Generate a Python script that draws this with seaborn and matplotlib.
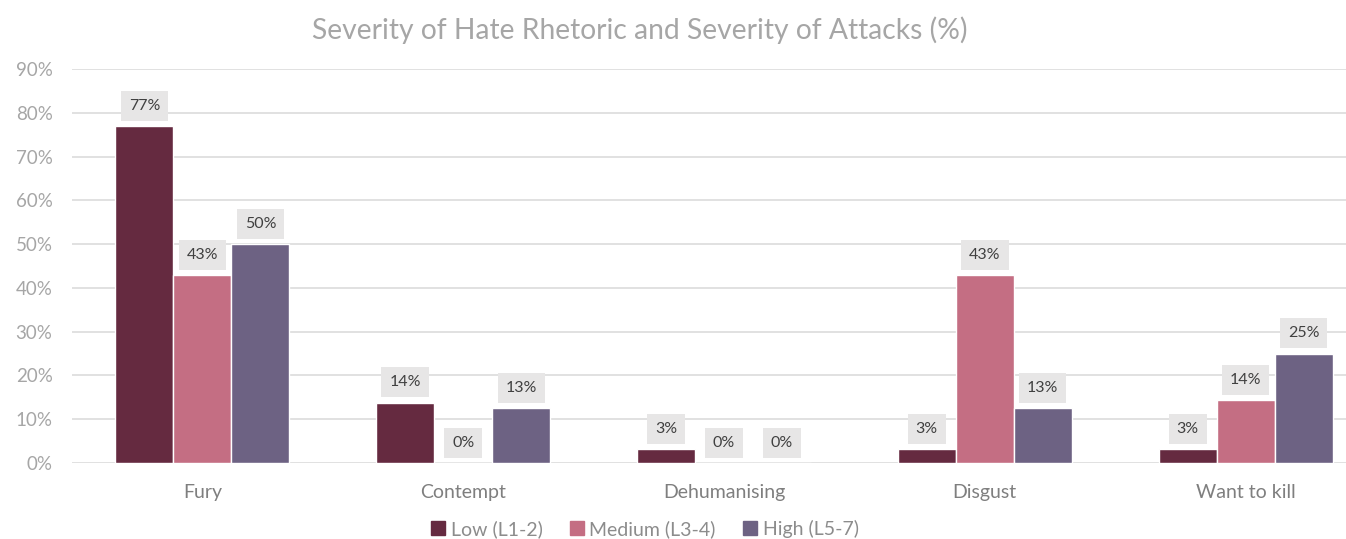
import matplotlib
matplotlib.use("Agg")
import matplotlib.pyplot as plt
import seaborn as sns
import pandas as pd

categories = ["Fury", "Contempt", "Dehumanising", "Disgust", "Want to kill"]
series = ["Low (L1-2)", "Medium (L3-4)", "High (L5-7)"]
low = [76.9, 13.8, 3.2, 3.2, 3.2]
medium = [42.9, 0.0, 0.0, 42.9, 14.3]
high = [50.0, 12.5, 0.0, 12.5, 25.0]
colors = ["#652A40", "#C46E83", "#6D6283"]

rows = []
for name, vals in zip(series, [low, medium, high]):
    for cat, v in zip(categories, vals):
        rows.append({"category": cat, "series": name, "value": v})
df = pd.DataFrame(rows)

sns.set_style("white")
plt.rcParams["font.family"] = ["Lato", "DejaVu Sans"]

fig = plt.figure(figsize=(13.46, 5.39), dpi=100)
ax = fig.add_axes([72 / 1346, 76 / 539, 1304 / 1346, 394 / 539])

sns.barplot(data=df, x="category", y="value", hue="series", palette=colors,
            width=0.667, gap=0, saturation=1, ax=ax, legend=False)

ax.set_ylim(0, 90)
ax.set_xlim(-0.5, 4.5)
ax.set_yticks(range(0, 91, 10))
ax.set_yticklabels([f"{t}%" for t in range(0, 91, 10)])
ax.yaxis.grid(True, color="#D9D9D9", linewidth=1.1)
ax.set_axisbelow(True)
for s in ax.spines.values():
    s.set_visible(False)
ax.tick_params(axis="y", length=0, pad=14, labelsize=13.5, labelcolor="#A6A6A6")
ax.tick_params(axis="x", length=0, pad=15, labelsize=14, labelcolor="#7F7F7F")
ax.set_xlabel("")
ax.set_ylabel("")

for cont, vals in zip(ax.containers, [low, medium, high]):
    for bar, v in zip(cont, vals):
        ax.annotate(f"{int(v + 0.5)}%", (bar.get_x() + bar.get_width() / 2, bar.get_height()),
                    xytext=(0, 14.5), textcoords="offset points",
                    ha="center", va="center", fontsize=11.5, color="#404040",
                    bbox=dict(boxstyle="square,pad=0.5", fc="#E7E6E6", ec="none"))

fig.text(640 / 1346, 1 - 30 / 539, "Severity of Hate Rhetoric and Severity of Attacks (%)",
         ha="center", va="center", fontsize=20.3, color="#A6A6A6")

handles = [plt.Rectangle((0, 0), 1, 1, color=c) for c in colors]
fig.legend(handles, series, loc="center", bbox_to_anchor=(645 / 1346, 1 - 529 / 539),
           ncol=3, frameon=False, fontsize=14, labelcolor="#8C8C8C",
           handlelength=0.7, handleheight=0.7, handletextpad=0.3, columnspacing=1.4)

fig.savefig("out.png", dpi=100)
